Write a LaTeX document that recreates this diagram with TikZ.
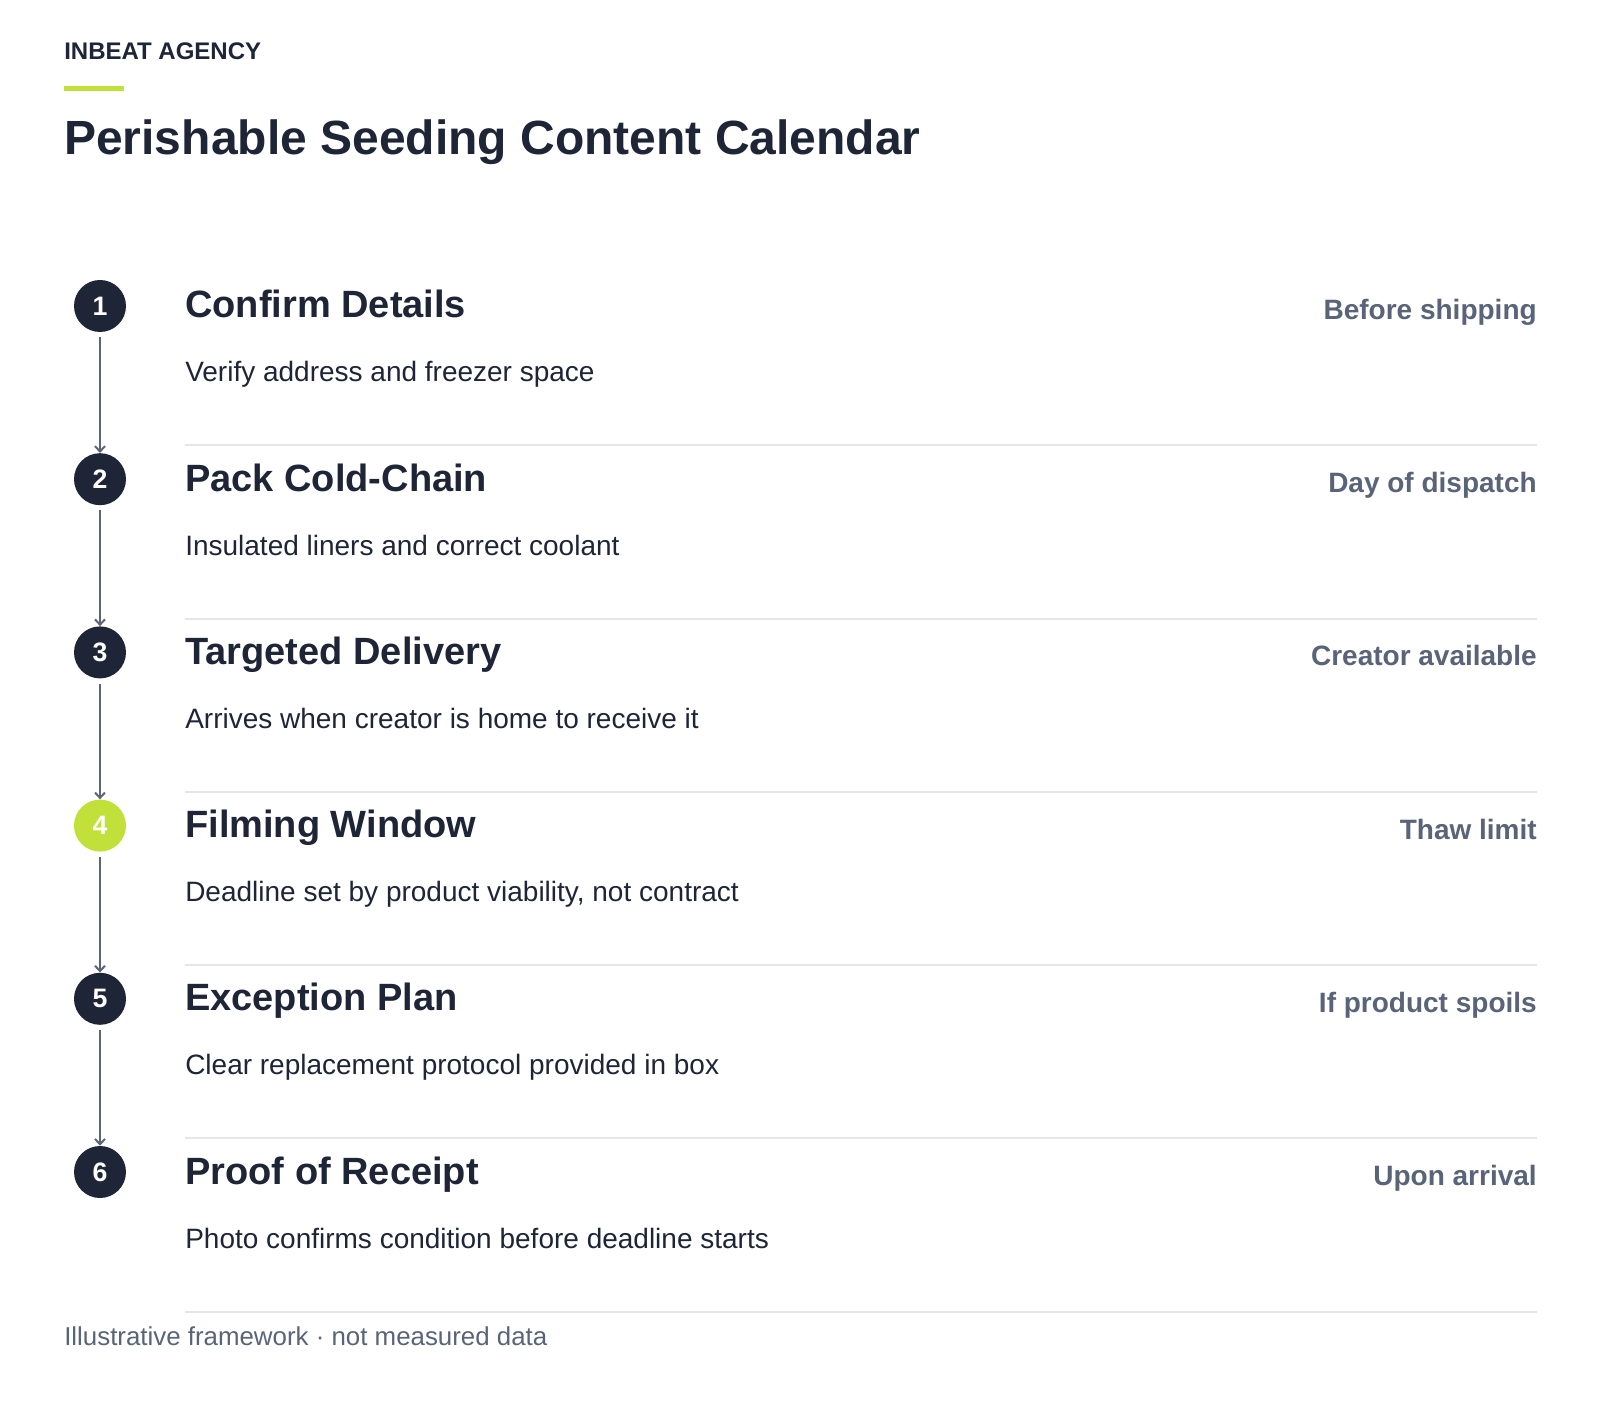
\documentclass[tikz,border=0pt]{standalone}
\usepackage{fontspec}
\setmainfont{Liberation Sans}
\usetikzlibrary{arrows.meta}
\definecolor{navy}{RGB}{30,37,54}
\definecolor{lime}{RGB}{194,224,58}
\definecolor{slate}{RGB}{90,100,120}
\definecolor{rule}{RGB}{228,230,235}
\definecolor{connc}{RGB}{92,100,118}
\tikzset{
  eyebrow/.style={anchor=base west, inner sep=0pt, text=navy, font=\fontsize{18pt}{20pt}\selectfont\bfseries},
  maintitle/.style={anchor=base west, inner sep=0pt, text=navy, font=\fontsize{36pt}{42pt}\selectfont\bfseries},
  stepdot/.style={circle, fill=navy, minimum size=39pt, inner sep=0pt, text=white, font=\fontsize{20pt}{22pt}\selectfont\bfseries},
  stepdotlime/.style={stepdot, fill=lime},
  steptitle/.style={anchor=base west, inner sep=0pt, text=navy, font=\fontsize{28.5pt}{32pt}\selectfont\bfseries},
  stepdesc/.style={anchor=base west, inner sep=0pt, text=navy, font=\fontsize{21pt}{24pt}\selectfont},
  steptime/.style={anchor=base east, inner sep=0pt, text=slate, font=\fontsize{21pt}{24pt}\selectfont\bfseries},
  seprule/.style={draw=rule, line width=1.5pt},
  conn/.style={draw=connc, line width=2.2pt, shorten <=3.75pt, -{Straight Barb[length=4pt,width=7.5pt,line width=1.5pt]}},
  footnote/.style={anchor=base west, inner sep=0pt, text=slate, font=\fontsize{19.4pt}{22pt}\selectfont},
}
\begin{document}
\begin{tikzpicture}[x=0.75pt, y=-0.75pt]
\useasboundingbox (0,0) rectangle (1600,1426);
\fill[white] (0,0) rectangle (1600,1426);
\node[eyebrow] (eyebrow) at (64,60) {INBEAT AGENCY};
\fill[lime] (64,86) rectangle (124,91);
\node[maintitle] (title) at (64,155) {Perishable Seeding Content Calendar};
% rows
\foreach \i/\t/\d/\w in {
  1/Confirm Details/Verify address and freezer space/Before shipping,
  2/Pack Cold-Chain/Insulated liners and correct coolant/Day of dispatch,
  3/Targeted Delivery/Arrives when creator is home to receive it/Creator available,
  4/Filming Window/{Deadline set by product viability, not contract}/Thaw limit,
  5/Exception Plan/Clear replacement protocol provided in box/If product spoils,
  6/Proof of Receipt/Photo confirms condition before deadline starts/Upon arrival}{
  \pgfmathsetmacro{\cy}{306+173.2*(\i-1)}
  \ifnum\i=4
    \node[stepdotlime] (c\i) at (100,\cy) {\i};
  \else
    \node[stepdot] (c\i) at (100,\cy) {\i};
  \fi
  \node[steptitle] (t\i) at (185,\cy+12) {\t};
  \node[stepdesc] (d\i) at (185,\cy+76) {\d};
  \node[steptime] (w\i) at (1537,\cy+13.5) {\w};
  \coordinate (sl\i) at (185,\cy+139.5);
  \coordinate (sr\i) at (1537,\cy+139.5);
  \draw[seprule] (sl\i) -- (sr\i);
}
\foreach \i/\j in {1/2,2/3,3/4,4/5,5/6}{
  \draw[conn] (c\i.south) -- (c\j.north);
}
\node[footnote] (foot) at (64,1345) {Illustrative framework · not measured data};
\end{tikzpicture}
\end{document}
